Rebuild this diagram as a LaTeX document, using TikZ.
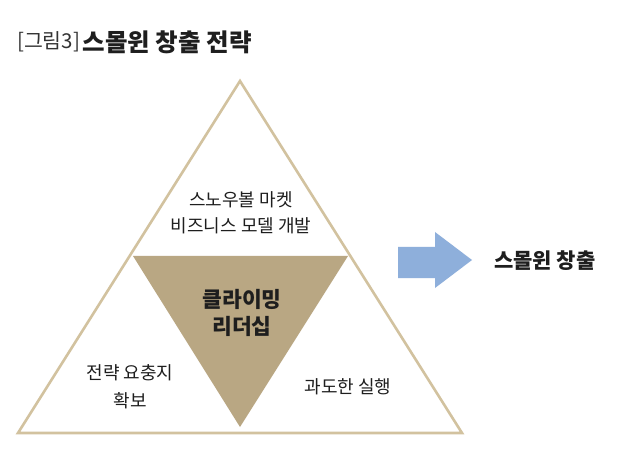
\documentclass[tikz,border=0pt]{standalone}
\usepackage{fontspec}
\setmainfont{Noto Sans CJK KR}
\definecolor{tanline}{HTML}{D2C29F}
\definecolor{tanfill}{HTML}{B9A783}
\definecolor{arrowblue}{HTML}{8EAFDB}
\definecolor{txt}{HTML}{1E1E1E}
\tikzset{
  lbl/.style={text=txt, font=\fontsize{18}{26}\selectfont, align=center, inner sep=0pt},
  clbl/.style={text=txt, font=\bfseries\fontsize{21.5}{27}\selectfont, align=center, inner sep=0pt},
}
\begin{document}
\begin{tikzpicture}[x=1pt,y=-1pt]
\useasboundingbox (0,0) rectangle (640,457);
\fill[white] (0,0) rectangle (640,457);
% outer triangle
\draw[tanline, line width=2.6pt, line join=miter] (240,81) -- (462,433) -- (18,433) -- cycle;
% inner inverted triangle
\fill[tanfill] (133,256) -- (348,256) -- (240,427) -- cycle;
% arrow
\fill[arrowblue] (398,247) -- (435,247) -- (435,232) -- (472,260) -- (435,288) -- (435,278) -- (398,278) -- cycle;
% title
\node[anchor=west, inner sep=0pt, text=black!80, font=\fontsize{20.5}{22}\selectfont] (t1) at (17,42) {[그림3]};
\node[anchor=west, inner sep=0pt, text=txt, font=\bfseries\fontsize{24.5}{26}\selectfont] (t2) at ([xshift=2pt]t1.east) {스몰윈 창출 전략};
% labels
\node[lbl] (top) at (241,213) {스노우볼 마켓\\비즈니스 모델 개발};
\node[clbl] (ctr) at (242,313) {클라이밍\\리더십};
\node[lbl, font=\fontsize{18}{28}\selectfont] (left) at (130,387) {전략 요충지\\확보};
\node[lbl] (right) at (348,387) {과도한 실행};
\node[inner sep=0pt, text=txt, font=\bfseries\fontsize{21}{22}\selectfont, anchor=west] (res) at (494,261) {스몰윈 창출};
\end{tikzpicture}
\end{document}
